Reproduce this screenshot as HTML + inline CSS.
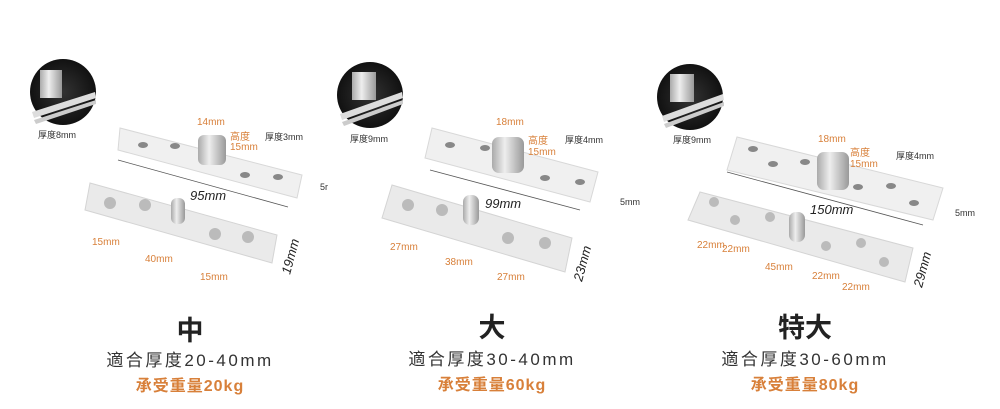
<!DOCTYPE html>
<html><head><meta charset="utf-8"><style>
body{margin:0;background:#fff}
svg{display:block}
text{font-family:"Liberation Sans","Noto Sans CJK SC",sans-serif}
.o{fill:#d8803a;font-size:10px}
.k{fill:#333;font-size:9px}
.d{fill:#222;font-size:13px;font-style:italic}
.l{stroke:#555;stroke-width:0.8}
.t{font-size:27px;font-weight:bold;fill:#222;text-anchor:middle}
.s1{font-size:17px;fill:#333;text-anchor:middle;letter-spacing:2.5px}
.s2{font-size:16px;fill:#d8803a;font-weight:bold;text-anchor:middle;letter-spacing:1px}
</style></head><body>
<svg width="1000" height="409" viewBox="0 0 1000 409">
<defs>
<radialGradient id="rg" cx="0.5" cy="0.5" r="0.5"><stop offset="0" stop-color="#333"/><stop offset="1" stop-color="#111"/></radialGradient>
<linearGradient id="cyl" x1="0" x2="1"><stop offset="0" stop-color="#aaa"/><stop offset="0.4" stop-color="#eee"/><stop offset="1" stop-color="#999"/></linearGradient>
</defs>

<!-- Panel 1 -->
<circle cx="63" cy="92" r="33" fill="url(#rg)"/>
<rect x="40" y="70" width="22" height="28" fill="url(#cyl)"/>
<polygon points="32,112 95,92 96,98 34,118" fill="#ddd"/>
<polygon points="34,120 96,100 96,104 36,124" fill="#ccc"/>
<text class="k" x="38" y="138">厚度8mm</text>
<polygon points="120,128 302,175 297,198 118,150" fill="#f0f0f0" stroke="#d8d8d8"/>
<ellipse cx="143" cy="145" rx="5" ry="3" fill="#888"/><ellipse cx="175" cy="146" rx="5" ry="3" fill="#888"/>
<ellipse cx="245" cy="175" rx="5" ry="3" fill="#888"/><ellipse cx="278" cy="177" rx="5" ry="3" fill="#888"/>
<rect x="198" y="135" width="28" height="30" rx="6" fill="url(#cyl)"/>
<text class="o" x="197" y="125">14mm</text><text class="o" x="230" y="140">高度</text><text class="o" x="230" y="150">15mm</text>
<text class="k" x="265" y="140">厚度3mm</text>
<line class="l" x1="118" y1="160" x2="288" y2="207"/>
<text class="d" x="190" y="200" font-size="15">95mm</text>
<text class="k" x="320" y="190">5r</text>
<polygon points="90,183 277,235 272,263 85,210" fill="#eaeaea" stroke="#d4d4d4"/>
<circle cx="110" cy="203" r="6" fill="#bbb"/><circle cx="145" cy="205" r="6" fill="#bbb"/>
<circle cx="215" cy="234" r="6" fill="#bbb"/><circle cx="248" cy="237" r="6" fill="#bbb"/>
<rect x="171" y="198" width="14" height="26" rx="6" fill="url(#cyl)"/>
<text class="o" x="92" y="245">15mm</text><text class="o" x="145" y="262">40mm</text><text class="o" x="200" y="280">15mm</text>
<text class="d" x="290" y="275" font-size="12" transform="rotate(-75 290 275)">19mm</text>

<!-- Panel 2 -->
<circle cx="370" cy="95" r="33" fill="url(#rg)"/>
<rect x="352" y="72" width="24" height="28" fill="url(#cyl)"/>
<polygon points="340,114 402,92 403,98 342,120" fill="#ddd"/>
<polygon points="342,122 403,100 403,104 344,126" fill="#ccc"/>
<text class="k" x="350" y="142">厚度9mm</text>
<polygon points="432,128 598,172 590,202 425,158" fill="#f0f0f0" stroke="#d8d8d8"/>
<ellipse cx="450" cy="145" rx="5" ry="3" fill="#888"/><ellipse cx="485" cy="148" rx="5" ry="3" fill="#888"/>
<ellipse cx="545" cy="178" rx="5" ry="3" fill="#888"/><ellipse cx="580" cy="182" rx="5" ry="3" fill="#888"/>
<rect x="492" y="137" width="32" height="36" rx="7" fill="url(#cyl)"/>
<text class="o" x="496" y="125">18mm</text><text class="o" x="528" y="144">高度</text><text class="o" x="528" y="155">15mm</text>
<text class="k" x="565" y="143">厚度4mm</text>
<line class="l" x1="430" y1="170" x2="580" y2="210"/>
<text class="d" x="485" y="208" font-size="15">99mm</text>
<text class="k" x="620" y="205">5mm</text>
<polygon points="392,185 572,238 565,272 382,218" fill="#eaeaea" stroke="#d4d4d4"/>
<circle cx="408" cy="205" r="6" fill="#bbb"/><circle cx="442" cy="210" r="6" fill="#bbb"/>
<circle cx="508" cy="238" r="6" fill="#bbb"/><circle cx="545" cy="243" r="6" fill="#bbb"/>
<rect x="463" y="195" width="16" height="30" rx="7" fill="url(#cyl)"/>
<text class="o" x="390" y="250">27mm</text><text class="o" x="445" y="265">38mm</text><text class="o" x="497" y="280">27mm</text>
<text class="d" x="582" y="282" font-size="12" transform="rotate(-75 582 282)">23mm</text>

<!-- Panel 3 -->
<circle cx="690" cy="97" r="33" fill="url(#rg)"/>
<rect x="670" y="74" width="24" height="28" fill="url(#cyl)"/>
<polygon points="662,116 723,94 724,100 664,122" fill="#ddd"/>
<polygon points="664,124 724,102 724,106 666,128" fill="#ccc"/>
<text class="k" x="673" y="143">厚度9mm</text>
<polygon points="737,137 943,188 933,220 727,170" fill="#f0f0f0" stroke="#d8d8d8"/>
<ellipse cx="753" cy="149" rx="5" ry="3" fill="#888"/><ellipse cx="773" cy="164" rx="5" ry="3" fill="#888"/><ellipse cx="805" cy="162" rx="5" ry="3" fill="#888"/>
<ellipse cx="858" cy="187" rx="5" ry="3" fill="#888"/><ellipse cx="891" cy="186" rx="5" ry="3" fill="#888"/><ellipse cx="914" cy="203" rx="5" ry="3" fill="#888"/>
<rect x="817" y="152" width="32" height="38" rx="7" fill="url(#cyl)"/>
<text class="o" x="818" y="142">18mm</text><text class="o" x="850" y="156">高度</text><text class="o" x="850" y="167">15mm</text>
<text class="k" x="896" y="159">厚度4mm</text>
<line class="l" x1="727" y1="172" x2="923" y2="225"/>
<text class="d" x="810" y="214" font-size="15">150mm</text>
<text class="k" x="955" y="216">5mm</text>
<polygon points="700,192 913,248 905,282 688,220" fill="#eaeaea" stroke="#d4d4d4"/>
<circle cx="714" cy="202" r="5" fill="#bbb"/><circle cx="735" cy="220" r="5" fill="#bbb"/><circle cx="770" cy="217" r="5" fill="#bbb"/>
<circle cx="826" cy="246" r="5" fill="#bbb"/><circle cx="861" cy="243" r="5" fill="#bbb"/><circle cx="884" cy="262" r="5" fill="#bbb"/>
<rect x="789" y="212" width="16" height="30" rx="7" fill="url(#cyl)"/>
<text class="o" x="697" y="248" font-size="8">22mm</text><text class="o" x="722" y="252" font-size="8">22mm</text>
<text class="o" x="765" y="270">45mm</text><text class="o" x="812" y="279" font-size="8">22mm</text><text class="o" x="842" y="290" font-size="8">22mm</text>
<text class="d" x="922" y="288" font-size="12" transform="rotate(-75 922 288)">29mm</text>

<!-- Captions -->
<text class="t" x="190" y="340">中</text>
<text class="s1" x="190" y="366">適合厚度20-40mm</text>
<text class="s2" x="190" y="391">承受重量20kg</text>
<text class="t" x="492" y="337">大</text>
<text class="s1" x="492" y="365">適合厚度30-40mm</text>
<text class="s2" x="492" y="390">承受重量60kg</text>
<text class="t" x="805" y="337">特大</text>
<text class="s1" x="805" y="365">適合厚度30-60mm</text>
<text class="s2" x="805" y="390">承受重量80kg</text>
</svg>
</body></html>
